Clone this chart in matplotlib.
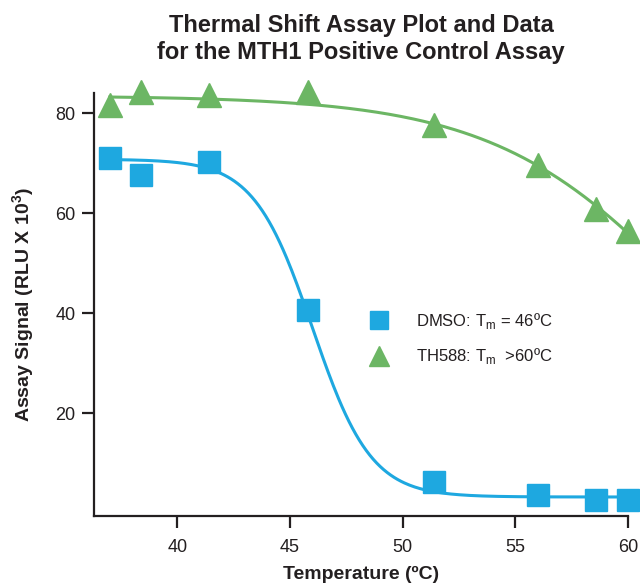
import numpy as np
import matplotlib
matplotlib.use("Agg")
import matplotlib.pyplot as plt
from matplotlib.lines import Line2D

plt.rcParams['font.family'] = ['Liberation Sans', 'DejaVu Sans']
plt.rcParams['mathtext.fontset'] = 'custom'
plt.rcParams['mathtext.rm'] = 'Liberation Sans'

temps = [37.0, 38.4, 41.4, 45.8, 51.4, 56.0, 58.6, 60.0]
dmso = [71.0, 67.6, 70.2, 40.7, 6.2, 3.5, 2.5, 2.5]
th588 = [81.7, 84.3, 83.7, 84.3, 77.7, 69.6, 60.8, 56.4]

# Boltzmann fit parameters (top, bottom, Tm, slope)
dmso_fit = (70.8, 3.2, 46.0, 1.3)
th588_fit = (83.5, 0.0, 63.2, 4.49)

x_ticks = [40, 45, 50, 55, 60]
y_ticks = [20, 40, 60, 80]

blue = '#1EA8E0'
green = '#6CB664'
dark = '#231F20'


def boltzmann(x, p):
    top, bottom, tm, s = p
    return bottom + (top - bottom) / (1 + np.exp((x - tm) / s))


fig = plt.figure(figsize=(6.4, 5.85), dpi=100)
ax = fig.add_axes([0.147, 0.118, 0.834, 0.7225])

xs = np.linspace(37.0, 60.0, 300)
ax.plot(xs, boltzmann(xs, dmso_fit), color=blue, lw=2.2, clip_on=False, zorder=2)
ax.plot(xs, boltzmann(xs, th588_fit), color=green, lw=2.2, clip_on=False, zorder=2)
ax.plot(temps, dmso, ls='none', marker='s', ms=15.5, color=blue, mec=blue, clip_on=False, zorder=3)
ax.plot(temps, th588, ls='none', marker='^', ms=17, color=green, mec=green, clip_on=False, zorder=3)

ax.set_xlim(36.3, 60.0)
ax.set_ylim(-0.6, 84.0)
ax.set_xticks(x_ticks)
ax.set_yticks(y_ticks)
ax.set_xticklabels([str(t) for t in x_ticks])
ax.set_yticklabels([str(t) for t in y_ticks])

for s in ['top', 'right']:
    ax.spines[s].set_visible(False)
for s in ['left', 'bottom']:
    ax.spines[s].set_linewidth(1.6)
    ax.spines[s].set_color(dark)
ax.tick_params(axis='both', direction='out', length=8.5, width=1.6, color=dark,
               labelsize=13, labelcolor=dark)
ax.tick_params(axis='x', pad=8)
ax.tick_params(axis='y', pad=5)

ax.set_xlabel('Temperature (ºC)', fontsize=14, fontweight='bold', color=dark, labelpad=7)
ax.set_ylabel('Assay Signal (RLU X 10$^{\\mathregular{3}}$)', fontsize=14, fontweight='bold',
              color=dark, labelpad=13)
ax.set_title('Thermal Shift Assay Plot and Data\nfor the MTH1 Positive Control Assay',
             fontsize=17, fontweight='bold', color=dark, pad=25, linespacing=1.2)

handles = [
    Line2D([], [], ls='none', marker='s', ms=13, color=blue),
    Line2D([], [], ls='none', marker='^', ms=15, color=green),
]
labels = ['DMSO: T$_{\\mathregular{m}}$ = 46ºC', 'TH588: T$_{\\mathregular{m}}$  >60ºC']
leg = ax.legend(handles, labels, loc='center left', bbox_to_anchor=(0.475, 0.42),
                frameon=False, fontsize=12, handletextpad=1.2, labelspacing=0.95,
                labelcolor=dark)

fig.savefig('out.png', dpi=100)
